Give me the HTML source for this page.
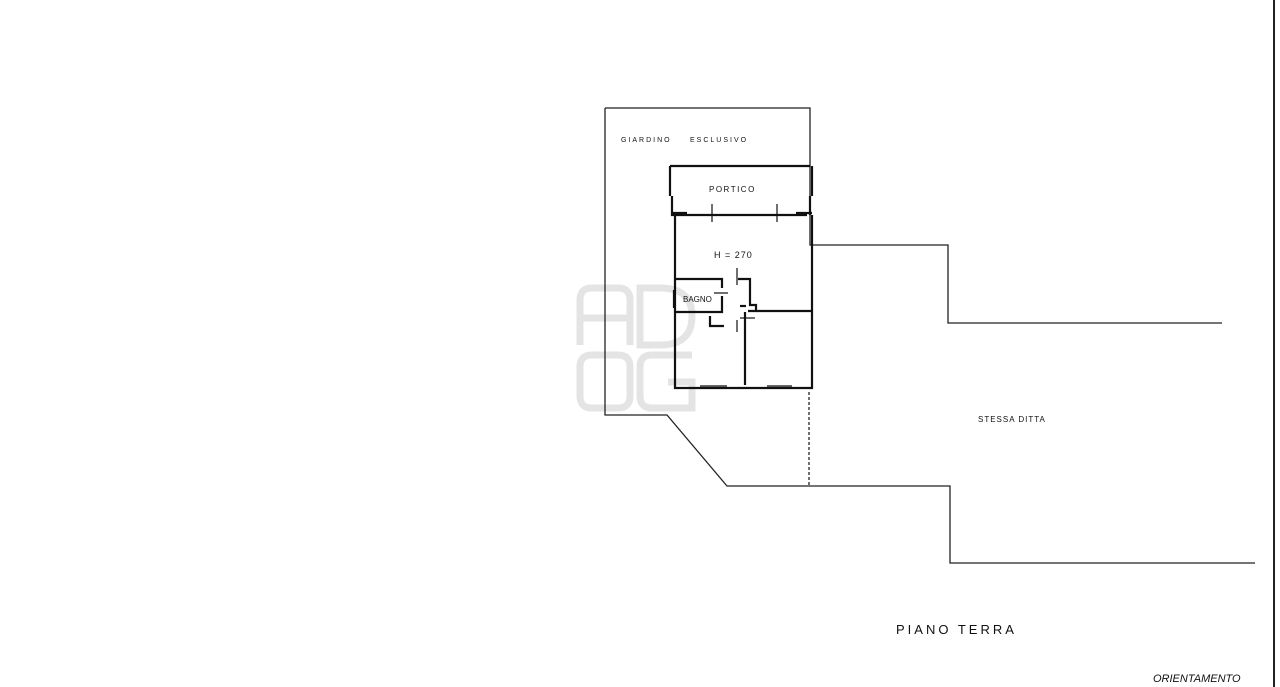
<!DOCTYPE html>
<html><head><meta charset="utf-8"><style>
html,body{margin:0;padding:0;background:#fff;}
svg{display:block}
text{font-family:"Liberation Sans",sans-serif;fill:#111}
</style></head><body>
<svg width="1280" height="687" viewBox="0 0 1280 687" xmlns="http://www.w3.org/2000/svg">
<rect width="1280" height="687" fill="#fff"/>
<!-- watermark -->
<g fill="none" stroke="#e4e4e4" stroke-width="7">
<path d="M580 345 V300 Q580 288 592 288 H618 Q630 288 630 300 V345 M580 318 H630"/>
<path d="M640 288 H660 Q692 288 692 316 Q692 345 660 345 H640 Z"/>
<path d="M592 355 H618 Q630 355 630 367 V396 Q630 408 618 408 H592 Q580 408 580 396 V367 Q580 355 592 355 Z"/>
<path d="M692 355 H652 Q640 355 640 367 V396 Q640 408 652 408 H692 V382 H668"/>
</g>
<!-- boundaries -->
<g fill="none" stroke="#222" stroke-width="1.3">
<path d="M605 108 H810 V245 H948 V323 H1222"/>
<path d="M605 108 V415 H667 L727 486 H950 V563 H1255"/>
<path d="M809 392 V486" stroke-dasharray="3 2"/>
</g>
<line x1="1274" y1="0" x2="1274" y2="687" stroke="#222" stroke-width="2"/>
<!-- building walls -->
<g fill="none" stroke="#111" stroke-width="2.2">
<path d="M670 166 H810"/>
<path d="M670 166 V196 M672 196 V215 H807 M812 166 V196 M810 196 V215"/>
<path d="M675 215 V388 H812 V215"/>
<path d="M671 213 H687 M812 213 H796"/>
<path d="M675 279 H722 V288 M675 312 H722 V296 M674 290 V308"/>
<path d="M738 279 H750 V305 H756 V311 M748 311 H812"/>
<path d="M745 312 V385 M710 316 V326 H724"/>
<path d="M740 306 H746"/>
</g>
<g stroke="#111" stroke-width="1.2">
<line x1="712" y1="204" x2="712" y2="222"/>
<line x1="777" y1="204" x2="777" y2="222"/>
<line x1="737" y1="268" x2="737" y2="285"/>
<line x1="737" y1="320" x2="737" y2="332"/>
<line x1="714" y1="293" x2="728" y2="293"/>
<line x1="740" y1="318" x2="755" y2="318"/>
<line x1="700" y1="386" x2="727" y2="386"/>
<line x1="767" y1="386" x2="792" y2="386"/>
</g>
<text x="621" y="142" font-size="7" letter-spacing="2">GIARDINO</text>
<text x="690" y="142" font-size="7" letter-spacing="2">ESCLUSIVO</text>
<text x="709" y="192" font-size="8" letter-spacing="1.5">PORTICO</text>
<text x="714" y="258" font-size="9" letter-spacing="1">H = 270</text>
<text x="683" y="302" font-size="8">BAGNO</text>
<text x="978" y="422" font-size="8" letter-spacing="1">STESSA DITTA</text>
<text x="896" y="634" font-size="13" letter-spacing="3">PIANO TERRA</text>
<text x="1153" y="682" font-size="11" font-style="italic">ORIENTAMENTO</text>
</svg>
</body></html>
